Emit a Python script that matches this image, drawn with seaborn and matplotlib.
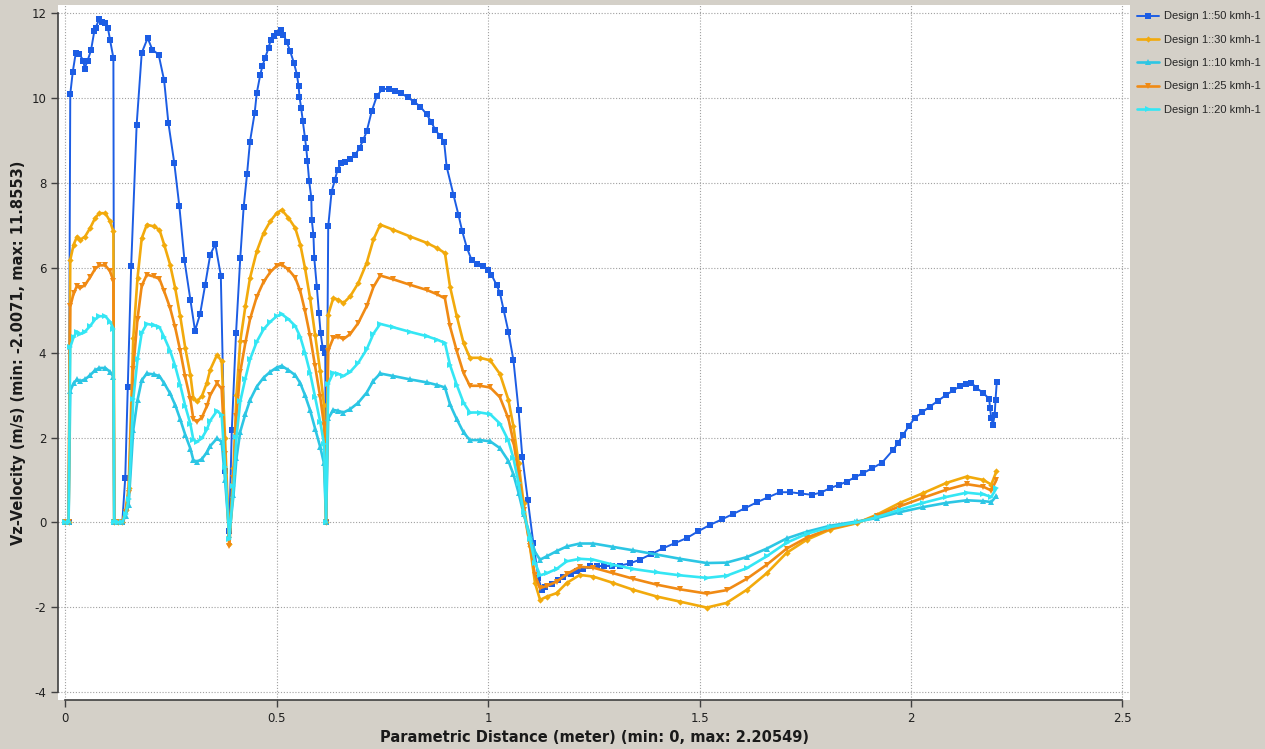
import numpy as np
import pandas as pd
import matplotlib
matplotlib.use("Agg")
import matplotlib.pyplot as plt
import seaborn as sns

# ---- data: Vz velocity along the parametric path ----
x_50 = [0.0, 0.008, 0.012, 0.018, 0.025, 0.033, 0.043, 0.046, 0.053, 0.061, 0.069, 0.072,
        0.080, 0.087, 0.095, 0.101, 0.106, 0.114, 0.116, 0.125, 0.135, 0.142, 0.148, 0.156,
        0.169, 0.181, 0.195, 0.206, 0.221, 0.234, 0.244, 0.258, 0.270, 0.282, 0.296, 0.307,
        0.319, 0.331, 0.343, 0.355, 0.368, 0.378, 0.388, 0.394, 0.404, 0.414, 0.422, 0.430,
        0.437, 0.448, 0.453, 0.461, 0.466, 0.473, 0.481, 0.486, 0.494, 0.502, 0.510, 0.516,
        0.524, 0.532, 0.541, 0.548, 0.552, 0.554, 0.558, 0.562, 0.567, 0.570, 0.573, 0.577,
        0.582, 0.583, 0.587, 0.589, 0.595, 0.600, 0.604, 0.609, 0.615, 0.617, 0.622, 0.630,
        0.638, 0.644, 0.652, 0.662, 0.674, 0.686, 0.696, 0.705, 0.713, 0.725, 0.737, 0.750,
        0.765, 0.780, 0.795, 0.810, 0.825, 0.840, 0.855, 0.865, 0.875, 0.887, 0.896, 0.902,
        0.918, 0.930, 0.939, 0.950, 0.961, 0.973, 0.989, 1.001, 1.008, 1.020, 1.028, 1.037,
        1.048, 1.060, 1.072, 1.081, 1.094, 1.107, 1.119, 1.127, 1.135, 1.150, 1.165, 1.178,
        1.195, 1.210, 1.225, 1.241, 1.258, 1.275, 1.293, 1.312, 1.335, 1.359, 1.386, 1.414,
        1.442, 1.470, 1.497, 1.525, 1.553, 1.580, 1.607, 1.635, 1.662, 1.690, 1.714, 1.740,
        1.765, 1.787, 1.809, 1.829, 1.848, 1.867, 1.887, 1.909, 1.931, 1.958, 1.970, 1.982,
        1.995, 2.009, 2.027, 2.045, 2.064, 2.084, 2.100, 2.116, 2.130, 2.143, 2.155, 2.171,
        2.185, 2.187, 2.190, 2.194, 2.198, 2.200, 2.203]
v_50 = [0.0, 0.0, 10.10, 10.63, 11.07, 11.05, 10.89, 10.70, 10.89, 11.13, 11.59, 11.66,
        11.86, 11.80, 11.78, 11.66, 11.38, 10.95, 0.0, 0.0, 0.0, 1.05, 3.20, 6.04,
        9.38, 11.07, 11.42, 11.15, 11.03, 10.42, 9.42, 8.47, 7.45, 6.18, 5.25, 4.52,
        4.91, 5.60, 6.31, 6.56, 5.82, 1.20, -0.20, 2.18, 4.46, 6.23, 7.43, 8.21,
        8.98, 9.65, 10.12, 10.54, 10.75, 10.96, 11.19, 11.38, 11.48, 11.54, 11.62, 11.50,
        11.33, 11.11, 10.83, 10.56, 10.28, 10.04, 9.77, 9.46, 9.06, 8.83, 8.51, 8.04,
        7.65, 7.14, 6.78, 6.23, 5.56, 4.94, 4.46, 4.11, 3.99, 0.0, 6.98, 7.80,
        8.08, 8.32, 8.47, 8.50, 8.57, 8.67, 8.83, 9.02, 9.22, 9.70, 10.05, 10.22,
        10.22, 10.18, 10.12, 10.02, 9.92, 9.80, 9.62, 9.45, 9.26, 9.10, 8.98, 8.39,
        7.73, 7.25, 6.86, 6.47, 6.19, 6.10, 6.04, 5.96, 5.84, 5.60, 5.41, 5.00,
        4.50, 3.82, 2.66, 1.54, 0.52, -0.49, -1.31, -1.59, -1.52, -1.45, -1.35, -1.28,
        -1.22, -1.15, -1.10, -1.04, -1.03, -1.03, -1.03, -1.02, -0.97, -0.88, -0.75, -0.61,
        -0.49, -0.37, -0.21, -0.06, 0.07, 0.20, 0.33, 0.47, 0.59, 0.71, 0.71, 0.68,
        0.65, 0.70, 0.81, 0.88, 0.96, 1.06, 1.16, 1.28, 1.40, 1.71, 1.88, 2.07,
        2.27, 2.46, 2.60, 2.73, 2.87, 3.01, 3.11, 3.21, 3.26, 3.29, 3.17, 3.05,
        2.91, 2.70, 2.46, 2.30, 2.54, 2.89, 3.32]

# the four lower-speed runs share one sampling of the path
x_low = [0.0, 0.008, 0.012, 0.020, 0.028, 0.035, 0.047, 0.059, 0.071, 0.081, 0.095, 0.106,
         0.114, 0.116, 0.125, 0.135, 0.143, 0.150, 0.161, 0.171, 0.181, 0.193, 0.209, 0.223,
         0.234, 0.248, 0.260, 0.272, 0.284, 0.296, 0.303, 0.311, 0.323, 0.335, 0.343, 0.359,
         0.370, 0.378, 0.388, 0.398, 0.405, 0.414, 0.426, 0.437, 0.453, 0.469, 0.485, 0.500,
         0.512, 0.528, 0.544, 0.556, 0.567, 0.579, 0.591, 0.603, 0.612, 0.617, 0.622, 0.634,
         0.646, 0.658, 0.674, 0.693, 0.713, 0.729, 0.745, 0.776, 0.816, 0.855, 0.879, 0.898,
         0.910, 0.926, 0.942, 0.957, 0.981, 1.005, 1.028, 1.048, 1.060, 1.072, 1.084, 1.099,
         1.111, 1.123, 1.139, 1.162, 1.186, 1.217, 1.249, 1.296, 1.343, 1.399, 1.454, 1.517,
         1.564, 1.612, 1.659, 1.706, 1.754, 1.809, 1.872, 1.919, 1.974, 2.029, 2.084, 2.132,
         2.171, 2.190, 2.202]
v_30 = [0.0, 0.0, 6.19, 6.55, 6.74, 6.66, 6.74, 6.94, 7.18, 7.29, 7.29, 7.10,
        6.86, 0.0, 0.0, 0.0, 0.30, 0.82, 4.35, 5.76, 6.70, 7.02, 6.98, 6.90,
        6.55, 6.08, 5.53, 4.86, 4.11, 3.48, 2.93, 2.85, 2.97, 3.29, 3.60, 3.95,
        3.80, 2.00, -0.50, 1.28, 3.01, 4.27, 5.09, 5.76, 6.39, 6.82, 7.10, 7.29,
        7.37, 7.18, 6.94, 6.55, 6.00, 5.29, 4.42, 3.56, 2.77, 0.0, 4.90, 5.29,
        5.25, 5.17, 5.33, 5.64, 6.12, 6.67, 7.02, 6.90, 6.74, 6.59, 6.47, 6.35,
        5.56, 4.86, 4.23, 3.88, 3.88, 3.82, 3.50, 2.89, 2.26, 1.40, 0.46, -0.57,
        -1.43, -1.83, -1.75, -1.67, -1.43, -1.24, -1.28, -1.43, -1.59, -1.75, -1.87, -2.01,
        -1.90, -1.59, -1.20, -0.72, -0.41, -0.17, -0.02, 0.18, 0.46, 0.69, 0.93, 1.08,
        1.00, 0.89, 1.20]
v_25 = [0.0, 0.0, 5.09, 5.40, 5.58, 5.52, 5.60, 5.78, 5.98, 6.06, 6.06, 5.92,
        5.70, 0.0, 0.0, 0.0, 0.25, 0.70, 3.62, 4.80, 5.58, 5.84, 5.80, 5.74,
        5.45, 5.06, 4.60, 4.05, 3.42, 2.90, 2.44, 2.37, 2.47, 2.74, 3.00, 3.28,
        3.15, 1.60, -0.55, 1.05, 2.50, 3.55, 4.23, 4.79, 5.32, 5.67, 5.90, 6.05,
        6.08, 5.96, 5.77, 5.45, 4.99, 4.40, 3.68, 2.96, 2.30, 0.0, 4.05, 4.35,
        4.38, 4.32, 4.44, 4.70, 5.10, 5.55, 5.82, 5.73, 5.60, 5.48, 5.38, 5.28,
        4.62, 4.04, 3.52, 3.22, 3.22, 3.18, 2.95, 2.45, 1.90, 1.17, 0.30, -0.55,
        -1.25, -1.55, -1.50, -1.40, -1.22, -1.05, -1.07, -1.20, -1.33, -1.47, -1.58, -1.68,
        -1.60, -1.33, -1.00, -0.62, -0.36, -0.15, -0.01, 0.15, 0.38, 0.58, 0.77, 0.90,
        0.84, 0.75, 1.00]
v_20 = [0.0, 0.0, 4.13, 4.37, 4.50, 4.44, 4.50, 4.63, 4.79, 4.86, 4.86, 4.73,
        4.57, 0.0, 0.0, 0.0, 0.20, 0.55, 2.90, 3.84, 4.47, 4.68, 4.65, 4.60,
        4.37, 4.05, 3.69, 3.24, 2.74, 2.32, 1.95, 1.90, 1.98, 2.19, 2.40, 2.63,
        2.53, 1.30, -0.40, 0.85, 2.01, 2.85, 3.39, 3.84, 4.26, 4.55, 4.73, 4.86,
        4.91, 4.79, 4.63, 4.37, 4.00, 3.53, 2.95, 2.37, 1.85, 0.0, 3.27, 3.53,
        3.50, 3.45, 3.55, 3.76, 4.08, 4.45, 4.68, 4.60, 4.49, 4.39, 4.31, 4.23,
        3.71, 3.24, 2.82, 2.59, 2.59, 2.55, 2.33, 1.93, 1.51, 0.93, 0.25, -0.40,
        -0.95, -1.25, -1.20, -1.10, -0.92, -0.86, -0.88, -1.00, -1.10, -1.18, -1.25, -1.31,
        -1.26, -1.08, -0.80, -0.48, -0.27, -0.11, 0.00, 0.12, 0.30, 0.46, 0.60, 0.70,
        0.66, 0.60, 0.80]
v_10 = [0.0, 0.0, 3.10, 3.28, 3.37, 3.33, 3.37, 3.47, 3.59, 3.64, 3.64, 3.55,
        3.43, 0.0, 0.0, 0.0, 0.15, 0.41, 2.18, 2.88, 3.35, 3.51, 3.49, 3.45,
        3.28, 3.04, 2.77, 2.43, 2.06, 1.74, 1.47, 1.43, 1.49, 1.65, 1.80, 1.98,
        1.90, 1.00, -0.30, 0.64, 1.51, 2.14, 2.55, 2.88, 3.20, 3.41, 3.55, 3.65,
        3.69, 3.59, 3.47, 3.28, 3.00, 2.65, 2.21, 1.78, 1.39, 0.0, 2.45, 2.65,
        2.63, 2.59, 2.67, 2.82, 3.06, 3.34, 3.51, 3.45, 3.37, 3.30, 3.24, 3.18,
        2.78, 2.43, 2.12, 1.94, 1.94, 1.91, 1.75, 1.45, 1.13, 0.70, 0.20, -0.30,
        -0.70, -0.88, -0.80, -0.68, -0.57, -0.50, -0.50, -0.58, -0.66, -0.76, -0.86, -0.96,
        -0.95, -0.82, -0.62, -0.38, -0.22, -0.08, 0.02, 0.10, 0.24, 0.36, 0.46, 0.52,
        0.50, 0.48, 0.62]

labels = ["Design 1::50 kmh-1", "Design 1::30 kmh-1", "Design 1::10 kmh-1",
          "Design 1::25 kmh-1", "Design 1::20 kmh-1"]
x_ticks = [0, 0.5, 1, 1.5, 2, 2.5]
y_ticks = [-4, -2, 0, 2, 4, 6, 8, 10, 12]

series = [
    (labels[0], x_50, v_50, "#1c5de4", "s", 4.4, 1.4),
    (labels[1], x_low, v_30, "#f2aa0c", "D", 3.2, 1.9),
    (labels[2], x_low, v_10, "#2cc6e4", "^", 3.8, 1.9),
    (labels[3], x_low, v_25, "#f08a14", "v", 3.8, 1.9),
    (labels[4], x_low, v_20, "#34e6f4", ">", 3.8, 1.9),
]

sns.set_style("white")
plt.rcParams["font.family"] = ["DejaVu Sans"]

fig = plt.figure(figsize=(12.65, 7.49), dpi=100, facecolor="#d4d0c8")
ax = fig.add_axes([58 / 1265, 49 / 749, (1130 - 58) / 1265, (700 - 5) / 749])
ax.set_facecolor("white")

for name, xs, ys, col, mk, ms, lw in series:
    df = pd.DataFrame({"x": xs, "v": ys})
    sns.lineplot(data=df, x="x", y="v", ax=ax, color=col, marker=mk, markersize=ms,
                 markeredgewidth=0, linewidth=lw, estimator=None, sort=False,
                 label=name, legend=False)

ax.set_xlim(-0.017, 2.518)
ax.set_ylim(-4.19, 12.2)
ax.set_xticks(x_ticks)
ax.set_xticklabels(["0", "0.5", "1", "1.5", "2", "2.5"])
ax.set_yticks(y_ticks)
ax.set_yticklabels([str(t) for t in y_ticks])
ax.grid(True, color="#a0a0a0", linestyle=(0, (1, 1.6)), linewidth=0.8)

for side in ("top", "right"):
    ax.spines[side].set_visible(False)
ax.spines["left"].set_bounds(-4, 12)
ax.spines["bottom"].set_bounds(0, 2.5)
ax.spines["left"].set_color("#404040")
ax.spines["bottom"].set_color("#404040")
ax.spines["left"].set_linewidth(1.2)
ax.spines["bottom"].set_linewidth(1.2)
ax.tick_params(axis="both", which="both", direction="out", length=5, width=1,
               color="#404040", labelsize=8.5, labelcolor="#202020",
               left=True, bottom=True)

ax.set_xlabel("Parametric Distance (meter) (min: 0, max: 2.20549)",
              fontsize=10.5, fontweight="bold", color="#1a1a1a", labelpad=4)
ax.set_ylabel("Vz-Velocity (m/s) (min: -2.0071, max: 11.8553)",
              fontsize=10.5, fontweight="bold", color="#1a1a1a", labelpad=4)

handles, hl = ax.get_legend_handles_labels()
fig.legend(handles, hl, loc="upper left", bbox_to_anchor=(1133 / 1265, 1 - 7 / 749),
           frameon=False, prop={"family": "Liberation Sans", "size": 8},
           handlelength=1.9, handletextpad=0.5, labelspacing=1.2, borderaxespad=0)

fig.savefig("out.png", dpi=100, facecolor=fig.get_facecolor())
